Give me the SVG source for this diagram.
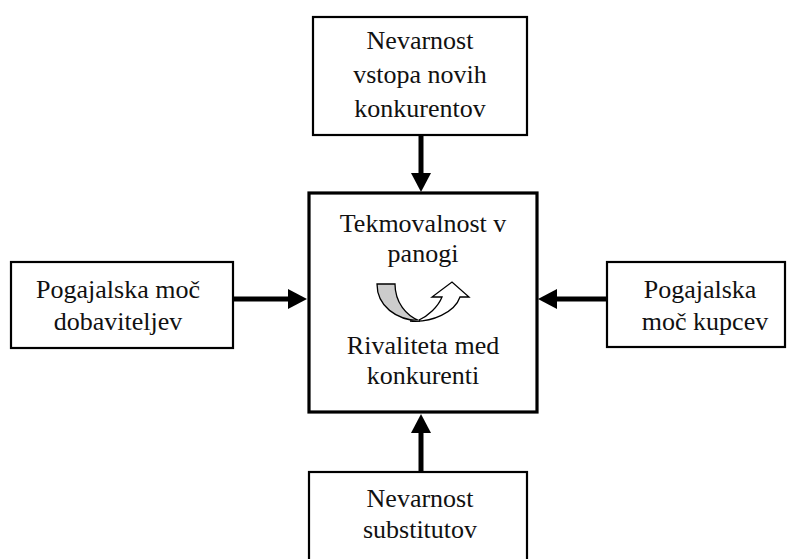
<svg xmlns="http://www.w3.org/2000/svg" width="787" height="559" viewBox="0 0 787 559">
<style>
.box{fill:#fff;stroke:#000;stroke-width:2.2}
.main{fill:#fff;stroke:#000;stroke-width:3.2}
.t{font-family:"Liberation Serif","DejaVu Serif",serif;font-size:26px;fill:#111;text-anchor:middle}
.con{stroke:#000;stroke-width:5;fill:none}
</style>
<defs>
<marker id="ah" markerUnits="userSpaceOnUse" markerWidth="19" markerHeight="20" refX="0" refY="10" orient="auto" viewBox="0 0 19 20">
<path d="M0,0 L19,10 L0,20 Z" fill="#000"/>
</marker>
</defs>
<g id="connectors">
<line class="con" x1="421" y1="135" x2="421" y2="173" marker-end="url(#ah)"/>
<line class="con" x1="421" y1="471" x2="421" y2="433" marker-end="url(#ah)"/>
<line class="con" x1="233" y1="299" x2="288" y2="299" marker-end="url(#ah)"/>
<line class="con" x1="607" y1="299" x2="557" y2="299" marker-end="url(#ah)"/>
</g>
<g id="node-top">
<rect class="box" x="313" y="17" width="214" height="118"/>
<text class="t" x="420" y="49">Nevarnost</text>
<text class="t" x="420" y="83">vstopa novih</text>
<text class="t" x="420" y="117">konkurentov</text>
</g>
<g id="node-center">
<rect class="main" x="309" y="193" width="228" height="219"/>
<text class="t" x="423" y="232">Tekmovalnost v</text>
<text class="t" x="423" y="262">panogi</text>
<path d="M377,284 L395,284 C395,302 406,316 420,321 C396,320 377,306 377,284 Z" fill="#ccc" stroke="#000" stroke-width="1.3"/>
<path d="M410,321 C432,323 455,312 460,297 L469,297 L452,282 L432,297 L442,297 C438,307 428,316 419,320" fill="#fff" stroke="#000" stroke-width="1.3"/>
<text class="t" x="423" y="354">Rivaliteta med</text>
<text class="t" x="423" y="384">konkurenti</text>
</g>
<g id="node-left">
<rect class="box" x="11" y="262" width="222" height="86"/>
<text class="t" x="118" y="298">Pogajalska moč</text>
<text class="t" x="118" y="330">dobaviteljev</text>
</g>
<g id="node-right">
<rect class="box" x="607" y="262" width="178" height="85"/>
<text class="t" x="700" y="298">Pogajalska</text>
<text class="t" x="705" y="330">moč kupcev</text>
</g>
<g id="node-bottom">
<rect class="box" x="309" y="472" width="218" height="120"/>
<text class="t" x="420" y="507">Nevarnost</text>
<text class="t" x="420" y="538">substitutov</text>
</g>
</svg>
